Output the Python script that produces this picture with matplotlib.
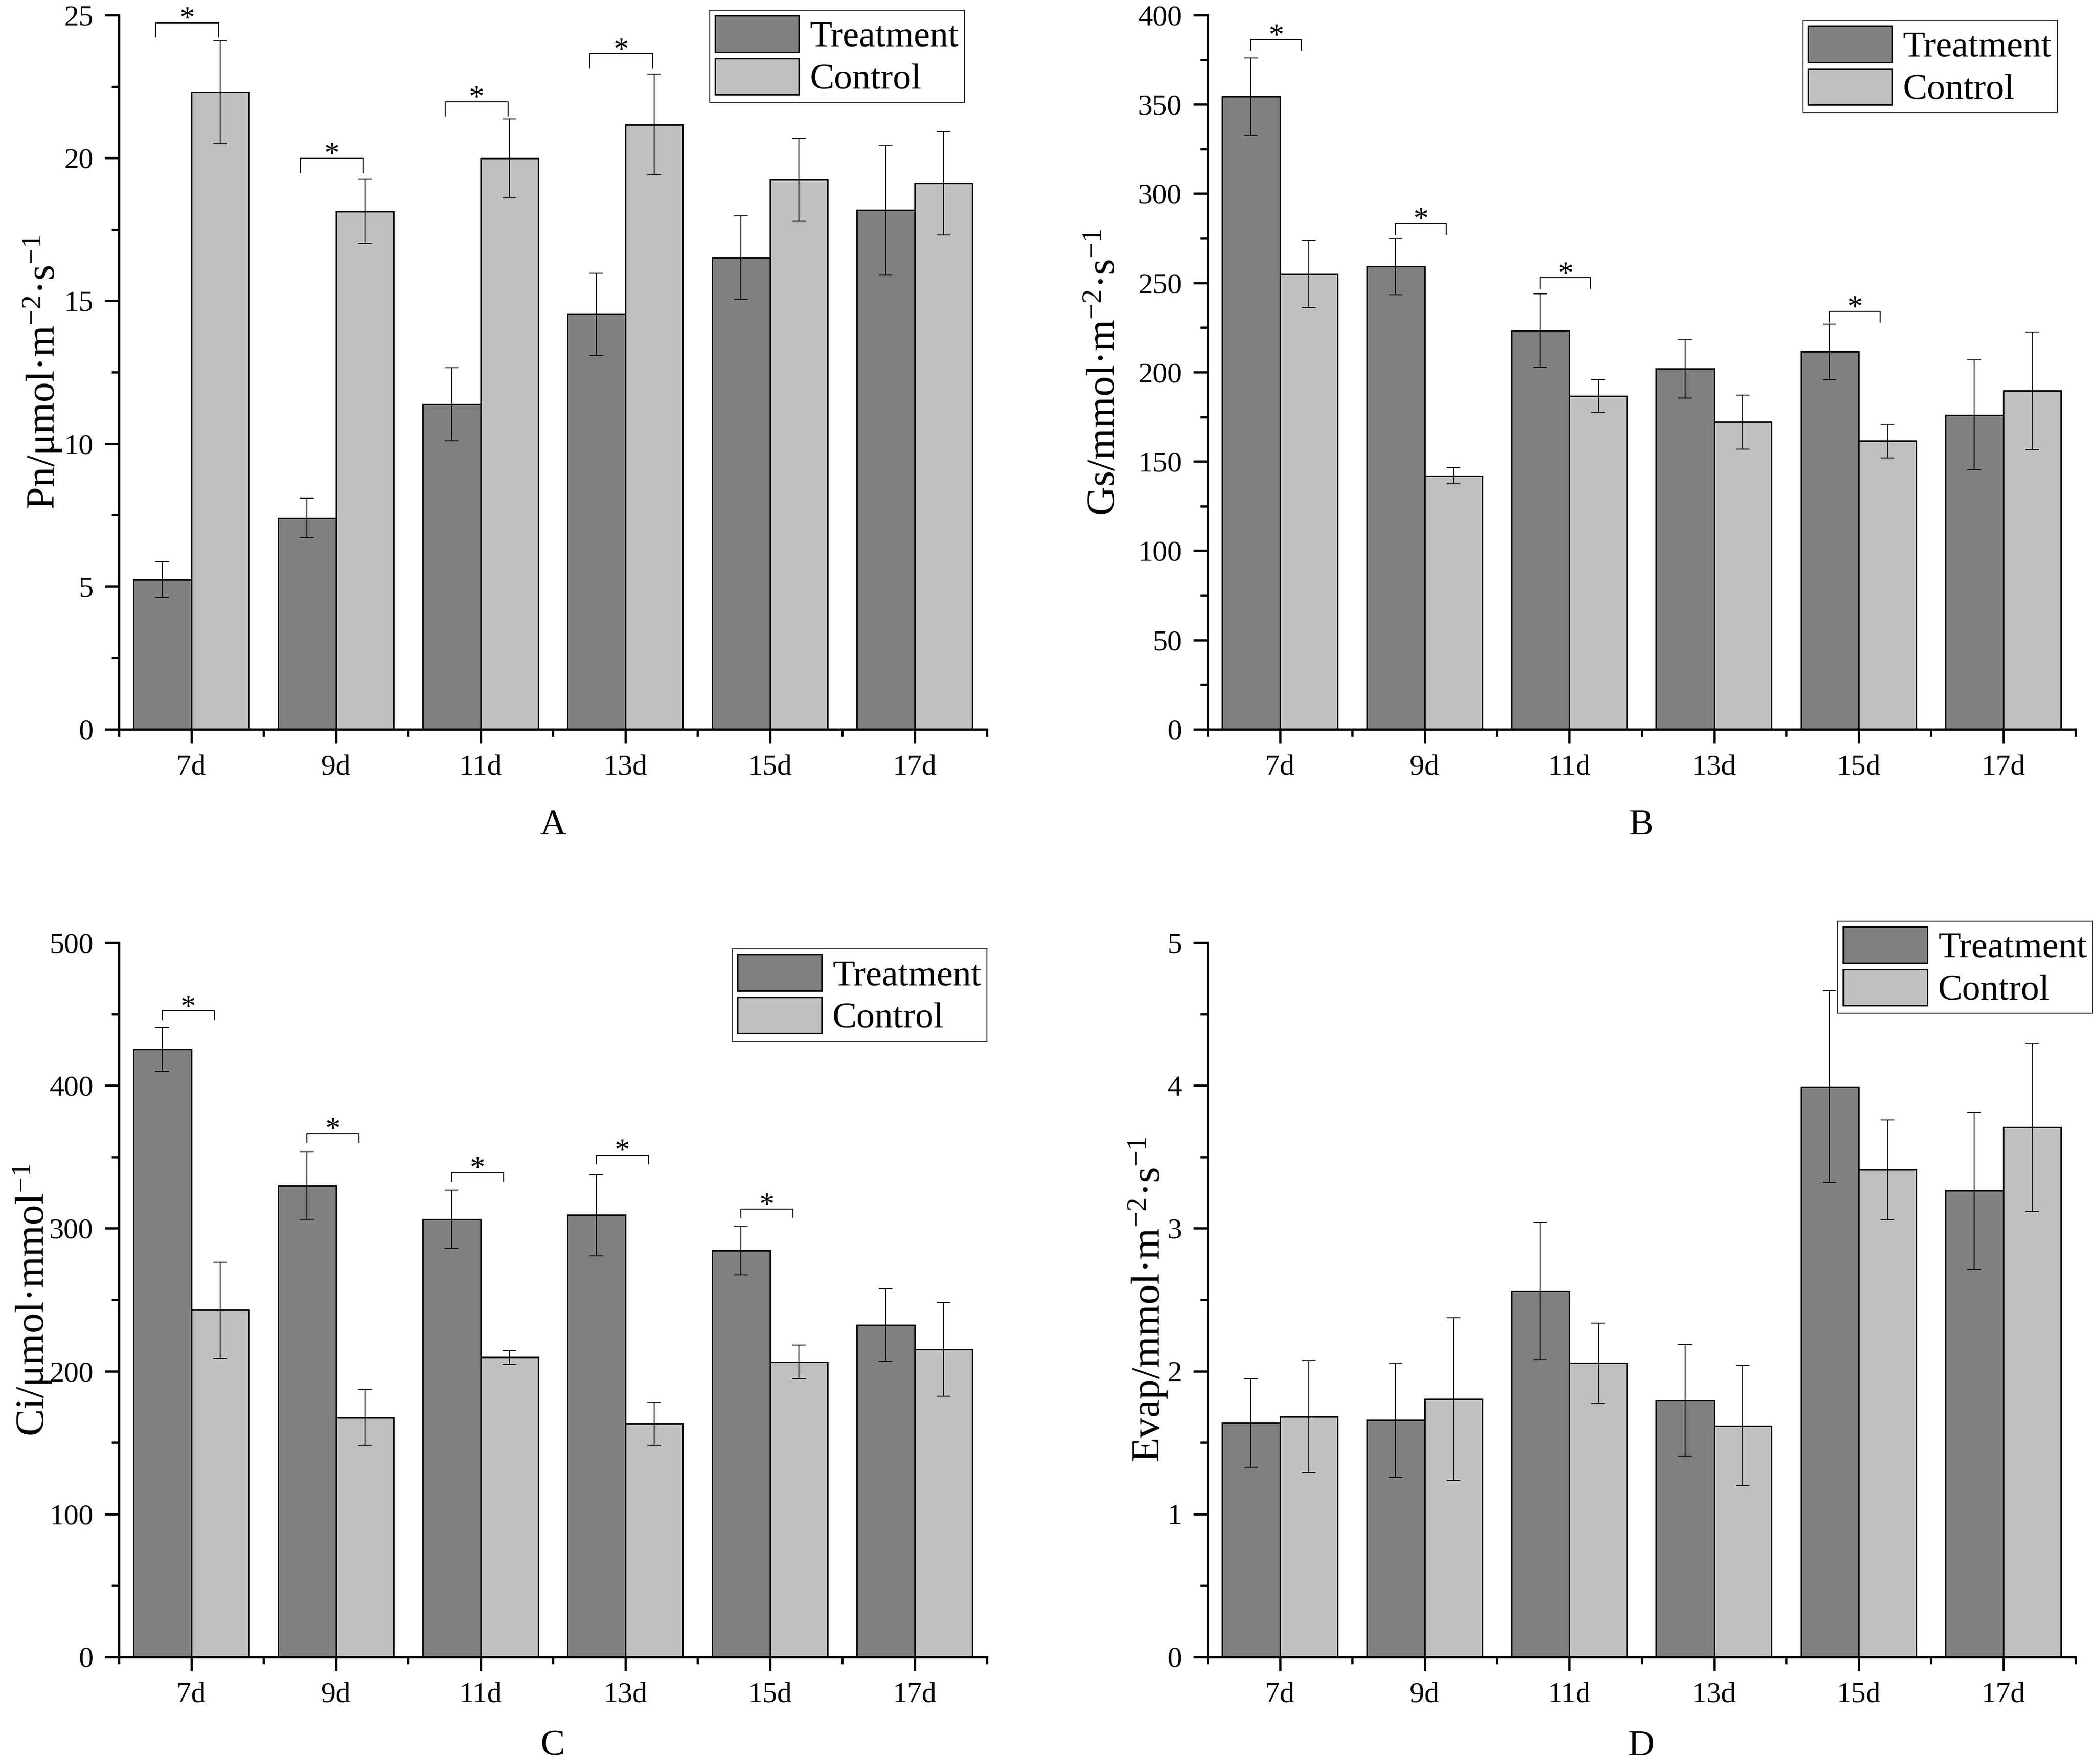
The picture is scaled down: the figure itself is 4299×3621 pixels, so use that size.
import matplotlib
matplotlib.use('Agg')
import matplotlib.pyplot as plt
import numpy as np
from matplotlib.ticker import MultipleLocator, FixedLocator

plt.rcParams['font.family'] = ['Liberation Serif', 'DejaVu Serif']
plt.rcParams['mathtext.fontset'] = 'custom'
plt.rcParams['mathtext.rm'] = 'Liberation Serif'
plt.rcParams['mathtext.it'] = 'Liberation Serif:italic'

days = ['7d', '9d', '11d', '13d', '15d', '17d']

# A - net photosynthetic rate
pn_treat = [5.24, 7.39, 11.37, 14.53, 16.51, 18.18]
pn_treat_err = [0.62, 0.69, 1.28, 1.45, 1.47, 2.27]
pn_ctrl = [22.30, 18.13, 19.99, 21.17, 19.23, 19.12]
pn_ctrl_err = [1.80, 1.12, 1.37, 1.77, 1.45, 1.81]
pn_sig = [0, 1, 2, 3]
pn_sig_y = [24.73, 19.99, 21.97, 23.65]

# B - stomatal conductance
gs_treat = [354.3, 259.3, 223.3, 202.0, 211.4, 176.1]
gs_treat_err = [21.6, 15.8, 20.7, 16.4, 15.5, 30.8]
gs_ctrl = [255.0, 142.0, 186.7, 172.1, 161.5, 189.5]
gs_ctrl_err = [18.6, 4.6, 9.1, 15.2, 9.4, 32.9]
gs_sig = [0, 1, 2, 4]
gs_sig_y = [386.3, 283.3, 252.9, 234.0]

# C - intercellular CO2
ci_treat = [425.3, 329.7, 306.2, 309.3, 284.3, 232.3]
ci_treat_err = [15.4, 23.5, 20.4, 28.5, 16.9, 25.4]
ci_ctrl = [242.7, 167.6, 209.6, 162.9, 206.5, 215.3]
ci_ctrl_err = [33.5, 19.6, 5.0, 15.0, 11.9, 32.7]
ci_sig = [0, 1, 2, 3, 4]
ci_sig_y = [452.2, 366.3, 339.0, 351.3, 313.6]

# D - transpiration
ev_treat = [1.637, 1.656, 2.562, 1.795, 3.991, 3.263]
ev_treat_err = [0.31, 0.40, 0.48, 0.39, 0.67, 0.55]
ev_ctrl = [1.683, 1.803, 2.057, 1.618, 3.409, 3.706]
ev_ctrl_err = [0.39, 0.57, 0.28, 0.42, 0.35, 0.59]
ev_sig = []
ev_sig_y = []

panels = [
    dict(treat=pn_treat, terr=pn_treat_err, ctrl=pn_ctrl, cerr=pn_ctrl_err,
         sig=pn_sig, sig_y=pn_sig_y, leg_len=0.5, span=(-0.245, 0.19),
         ylim=25, major=5, minor=2.5, letter='A',
         ylabel=r'Pn/μmol·m$^{-2}$·s$^{-1}$', label_x=-0.063,
         pos=[0.05676, 0.58658], legend_at=(0.974, 1.0068), letter_y=0.5270),
    dict(treat=gs_treat, terr=gs_treat_err, ctrl=gs_ctrl, cerr=gs_ctrl_err,
         sig=gs_sig, sig_y=gs_sig_y, leg_len=6, span=(-0.2, 0.15),
         ylim=400, major=50, minor=25, letter='B',
         ylabel=r'Gs/mmol·m$^{-2}$·s$^{-1}$', label_x=-0.097,
         pos=[0.57665, 0.58658], legend_at=(0.979, 0.9925), letter_y=0.5270),
    dict(treat=ci_treat, terr=ci_treat_err, ctrl=ci_ctrl, cerr=ci_ctrl_err,
         sig=ci_sig, sig_y=ci_sig_y, leg_len=6, span=(-0.2, 0.16),
         ylim=500, major=100, minor=50, letter='C',
         ylabel=r'Ci/μmol·mmol$^{-1}$', label_x=-0.075,
         pos=[0.05676, 0.06076], legend_at=(1.0, 0.991), letter_y=0.0050),
    dict(treat=ev_treat, terr=ev_treat_err, ctrl=ev_ctrl, cerr=ev_ctrl_err,
         sig=ev_sig, sig_y=ev_sig_y, leg_len=0, span=(-0.2, 0.16),
         ylim=5, major=1, minor=0.5, letter='D',
         ylabel=r'Evap/mmol·m$^{-2}$·s$^{-1}$', label_x=-0.044,
         pos=[0.57665, 0.06076], legend_at=(1.0196, 1.030), letter_y=0.0050),
]

W, H = 0.41452, 0.40486
width = 0.4
x = np.arange(1, len(days) + 1)

fig = plt.figure(figsize=(4299 / 300, 3621 / 300), dpi=300)

for p in panels:
    ax = fig.add_axes([p['pos'][0], p['pos'][1], W, H])
    ax.bar(x - width / 2, p['treat'], width, color='#808080', edgecolor='black',
           linewidth=0.7, label='Treatment', zorder=2)
    ax.bar(x + width / 2, p['ctrl'], width, color='#c0c0c0', edgecolor='black',
           linewidth=0.7, label='Control', zorder=2)
    ax.errorbar(x - width / 2, p['treat'], yerr=p['terr'], fmt='none', ecolor='black',
                elinewidth=0.45, capsize=3.4, capthick=0.45, zorder=3)
    ax.errorbar(x + width / 2, p['ctrl'], yerr=p['cerr'], fmt='none', ecolor='black',
                elinewidth=0.45, capsize=3.4, capthick=0.45, zorder=3)

    # significance brackets
    for i, yb in zip(p['sig'], p['sig_y']):
        x0 = x[i] + p['span'][0]
        x1 = x[i] + p['span'][1]
        ax.plot([x0, x0, x1, x1], [yb - p['leg_len'], yb, yb, yb - p['leg_len']],
                color='black', linewidth=0.5, zorder=3)
        ax.annotate('*', xy=((x0 + x1) / 2, yb), xytext=(0, -2.5),
                    textcoords='offset points', ha='center', va='baseline',
                    fontsize=15)

    ax.set_xlim(0.5, 6.5)
    ax.set_ylim(0, p['ylim'])
    ax.set_xticks(x)
    ax.set_xticklabels(days)
    ax.xaxis.set_minor_locator(FixedLocator(np.arange(0.5, 7, 1)))
    ax.yaxis.set_major_locator(MultipleLocator(p['major']))
    ax.yaxis.set_minor_locator(MultipleLocator(p['minor']))
    ax.tick_params(which='major', direction='out', length=7, width=1.1,
                   labelsize=14.5, pad=5.5)
    ax.tick_params(which='minor', direction='out', length=3.5, width=1.1)
    for s in ['top', 'right']:
        ax.spines[s].set_visible(False)
    for s in ['left', 'bottom']:
        ax.spines[s].set_linewidth(1.1)

    ax.set_ylabel(p['ylabel'], fontsize=20)
    ax.yaxis.set_label_coords(p['label_x'], 0.5)

    leg = ax.legend(loc='upper right', bbox_to_anchor=p['legend_at'], fontsize=18,
                    frameon=True, fancybox=False, edgecolor='black',
                    borderpad=0.15, borderaxespad=0, labelspacing=0.12,
                    handleheight=1.15, handlelength=2.3, handletextpad=0.3)
    leg.get_frame().set_linewidth(0.5)
    leg.set_zorder(2.5)

    fig.text(p['pos'][0] + W / 2, p['letter_y'], p['letter'],
             ha='center', va='baseline', fontsize=18)

fig.savefig('out.png', dpi=300)
